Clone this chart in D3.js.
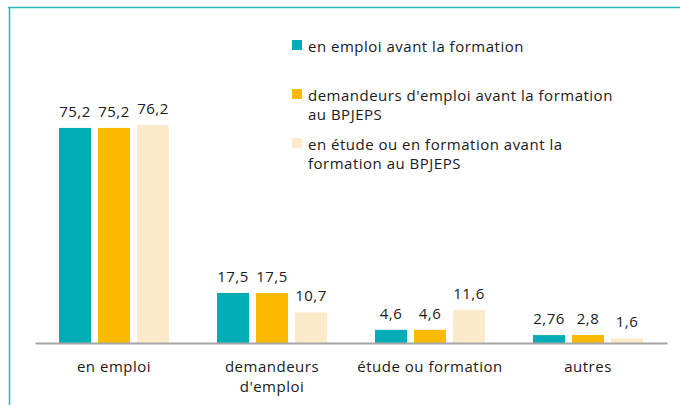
<!DOCTYPE html>
<html><head><meta charset="utf-8">
<script src="https://cdn.jsdelivr.net/npm/d3@7"></script>
<style>body{margin:0;background:#fff;} svg{display:block;}</style>
</head><body>
<script>
const categories = [["en emploi"], ["demandeurs", "d'emploi"], ["étude ou formation"], ["autres"]];
const seriesNames = [
  ["en emploi avant la formation"],
  ["demandeurs d'emploi avant la formation", "au BPJEPS"],
  ["en étude ou en formation avant la", "formation au BPJEPS"]
];
const enEmploi = [75.2, 17.5, 4.6, 2.76];
const demandeurs = [75.2, 17.5, 4.6, 2.8];
const etude = [76.2, 10.7, 11.6, 1.6];
const valueLabels = [
  ["75,2", "17,5", "4,6", "2,76"],
  ["75,2", "17,5", "4,6", "2,8"],
  ["76,2", "10,7", "11,6", "1,6"]
];
const colors = ["#00ACB6", "#FBBA00", "#FDEACB"];
const series = [enEmploi, demandeurs, etude];

const W = 680, H = 405;
const font = "'Open Sans', sans-serif";
const fs = 15, ls = 0.5;
const svg = d3.select("body").append("svg").attr("width", W).attr("height", H);

// frame
svg.append("line").attr("x1", 8).attr("x2", W).attr("y1", 7.5).attr("y2", 7.5).attr("stroke", "#2AB7AE").attr("stroke-width", 1.5);
svg.append("line").attr("x1", 9.5).attr("x2", 9.5).attr("y1", 7).attr("y2", H).attr("stroke", "#2AB7AE").attr("stroke-width", 1.5);

const baseY = 343;
const y = d3.scaleLinear().domain([0, 100]).range([baseY, baseY - 286]);
const x0 = d3.scaleBand().domain(d3.range(categories.length)).range([35, 667]);
const x1 = d3.scaleBand().domain(d3.range(3)).range([-55, 55]).paddingInner(0.18).paddingOuter(0);

const g = svg.append("g");
categories.forEach((c, i) => {
  const cx = x0(i) + x0.bandwidth() / 2;
  series.forEach((s, j) => {
    const bx = cx + x1(j);
    g.append("rect").attr("x", bx).attr("y", y(s[i])).attr("width", x1.bandwidth())
      .attr("height", baseY - y(s[i])).attr("fill", colors[j]);
    g.append("text").attr("x", bx + x1.bandwidth() / 2).attr("y", y(s[i]) - 11)
      .attr("text-anchor", "middle").attr("font-family", font).attr("font-size", fs)
      .attr("letter-spacing", ls).attr("fill", "#1a1a1a").text(valueLabels[j][i]);
  });
  c.forEach((line, k) => {
    g.append("text").attr("x", cx).attr("y", 372 + k * 20).attr("text-anchor", "middle")
      .attr("font-family", font).attr("font-size", fs).attr("letter-spacing", ls)
      .attr("fill", "#1a1a1a").text(line);
  });
});

// axis line
const xAxis = d3.axisBottom(x0).tickSize(0).tickFormat("");
const ax = svg.append("g").attr("transform", `translate(0,${baseY})`).call(xAxis);
ax.select(".domain").attr("stroke", "#A6A6A6").attr("stroke-width", 2);

// legend
const legTops = [40, 89, 138];
seriesNames.forEach((lines, j) => {
  svg.append("rect").attr("x", 292).attr("y", legTops[j]).attr("width", 10).attr("height", 10).attr("fill", colors[j]);
  lines.forEach((t, k) => {
    svg.append("text").attr("x", 308).attr("y", legTops[j] + 12 + k * 19)
      .attr("font-family", font).attr("font-size", fs).attr("letter-spacing", ls)
      .attr("fill", "#1a1a1a").text(t);
  });
});
</script>
</body></html>
